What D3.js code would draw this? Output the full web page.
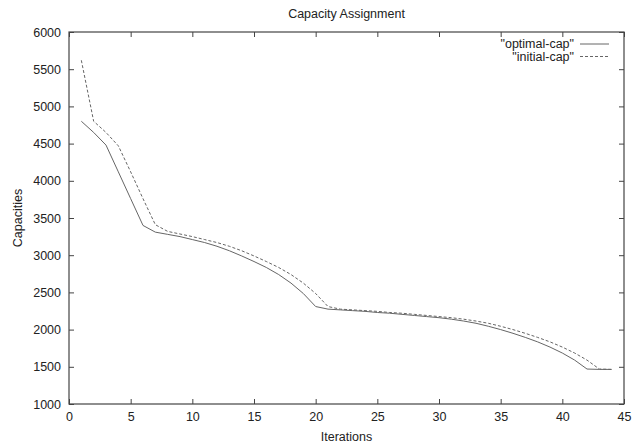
<!DOCTYPE html>
<html>
<head>
<meta charset="utf-8">
<script src="https://cdn.jsdelivr.net/npm/d3@7"></script>
<style>
  body { margin: 0; background: #fff; }
  svg text { font-family: "Liberation Sans", Arial, sans-serif; font-size: 12.5px; fill: #222; }
</style>
</head>
<body>
<div id="chart"></div>
<script>
// iterations 1..44
const iterations = d3.range(1, 45);
const optimalCap = [
    4800, 4650, 4480, 4120, 3760, 3400, 3310, 3280, 3250, 3210,
    3170, 3120, 3060, 2990, 2915, 2835, 2740, 2625, 2485, 2310,
    2275, 2265, 2255, 2245, 2230, 2220, 2205, 2190, 2175, 2160,
    2140, 2115, 2085, 2045, 2000, 1950, 1895, 1835, 1765, 1685,
    1590, 1470, 1465, 1465
];
const initialCap = [
    5620, 4800, 4650, 4470, 4120, 3760, 3410, 3320, 3285, 3250,
    3210, 3170, 3120, 3060, 2990, 2915, 2835, 2740, 2625, 2485,
    2310, 2275, 2265, 2255, 2245, 2230, 2220, 2205, 2190, 2175,
    2160, 2140, 2115, 2085, 2045, 2000, 1950, 1895, 1835, 1765,
    1685, 1590, 1470, 1465
];
const xTicks = [0, 5, 10, 15, 20, 25, 30, 35, 40, 45];
const yTicks = [1000, 1500, 2000, 2500, 3000, 3500, 4000, 4500, 5000, 5500, 6000];
const seriesNames = ['"optimal-cap"', '"initial-cap"'];

const WIDTH = 644, HEIGHT = 446;
const MARGIN = {top: 32, right: 20, bottom: 42, left: 69};
const plotW = WIDTH - MARGIN.left - MARGIN.right;
const plotH = HEIGHT - MARGIN.top - MARGIN.bottom;
const AXIS_COLOR = "#444";
const LINE_COLOR = "#666";

const svg = d3.select("#chart")
    .append("svg")
    .attr("width", WIDTH)
    .attr("height", HEIGHT);
const g = svg.append("g")
    .attr("transform", "translate(" + MARGIN.left + "," + MARGIN.top + ")");

const x = d3.scaleLinear().domain([0, 45]).range([0, plotW]);
const y = d3.scaleLinear().domain([1000, 6000]).range([plotH, 0]);

// ticks point inward on all four sides (gnuplot style)
function styleAxis(sel) {
    sel.select(".domain").remove();
    sel.selectAll("line").attr("stroke", AXIS_COLOR);
}
g.append("g")
    .attr("transform", "translate(0," + plotH + ")")
    .call(d3.axisBottom(x).tickValues(xTicks).tickSizeInner(-5).tickSizeOuter(0).tickPadding(8))
    .call(styleAxis);
g.append("g")
    .call(d3.axisTop(x).tickValues(xTicks).tickSizeInner(-5).tickSizeOuter(0).tickFormat(""))
    .call(styleAxis);
g.append("g")
    .call(d3.axisLeft(y).tickValues(yTicks).tickFormat(d3.format("d")).tickSizeInner(-5).tickSizeOuter(0).tickPadding(8))
    .call(styleAxis);
g.append("g")
    .attr("transform", "translate(" + plotW + ",0)")
    .call(d3.axisRight(y).tickValues(yTicks).tickSizeInner(-5).tickSizeOuter(0).tickFormat(""))
    .call(styleAxis);
g.selectAll(".tick text").attr("font-size", null).attr("font-family", null);

// frame
g.append("rect")
    .attr("width", plotW)
    .attr("height", plotH)
    .attr("fill", "none")
    .attr("stroke", AXIS_COLOR)
    .attr("stroke-width", 1.2);

const line = d3.line()
    .x((d, i) => x(iterations[i]))
    .y(d => y(d));

g.append("path")
    .datum(optimalCap)
    .attr("fill", "none")
    .attr("stroke", LINE_COLOR)
    .attr("stroke-width", 1)
    .attr("d", line);
g.append("path")
    .datum(initialCap)
    .attr("fill", "none")
    .attr("stroke", LINE_COLOR)
    .attr("stroke-width", 1)
    .attr("stroke-dasharray", "3,2")
    .attr("d", line);

// legend
const legend = g.append("g").attr("transform", "translate(" + (plotW - 50) + ",12)");
seriesNames.forEach(function (name, i) {
    const row = legend.append("g").attr("transform", "translate(0," + i * 12.5 + ")");
    row.append("text")
        .attr("x", 0)
        .attr("dy", "0.35em")
        .attr("text-anchor", "end")
        .text(name);
    row.append("line")
        .attr("x1", 6).attr("x2", 35)
        .attr("stroke", LINE_COLOR)
        .attr("stroke-dasharray", i === 1 ? "3,2" : null);
});

// titles
svg.append("text")
    .attr("x", MARGIN.left + plotW / 2)
    .attr("y", 18)
    .attr("text-anchor", "middle")
    .text("Capacity Assignment");
svg.append("text")
    .attr("x", MARGIN.left + plotW / 2)
    .attr("y", 441)
    .attr("text-anchor", "middle")
    .text("Iterations");
svg.append("text")
    .attr("transform", "translate(22," + (MARGIN.top + plotH / 2) + ") rotate(-90)")
    .attr("text-anchor", "middle")
    .text("Capacities");
</script>
</body>
</html>
